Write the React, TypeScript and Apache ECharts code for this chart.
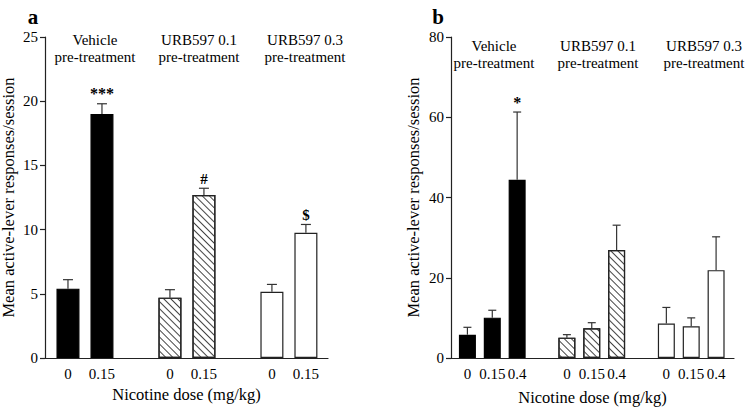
import React, { useEffect, useRef } from "react";
import * as echarts from "echarts";

const groupNames = ["Vehicle", "URB597 0.1", "URB597 0.3"];
const groupSub = "pre-treatment";
const styles = ["solid", "hatched", "open"];

const dosesA = ["0", "0.15"];
const meansA = [[5.4, 19.0], [4.7, 12.7], [5.15, 9.75]];
const semA = [[0.7, 0.8], [0.62, 0.52], [0.58, 0.65]];
const sigA = [["", "***"], ["", "#"], ["", "$"]];

const dosesB = ["0", "0.15", "0.4"];
const meansB = [[5.8, 10.05, 44.4], [5.07, 7.4, 26.9], [8.6, 7.9, 21.9]];
const semB = [[1.85, 1.85, 16.9], [0.75, 1.4, 6.2], [4.0, 2.1, 8.3]];
const sigB = [["", "", "*"], ["", "", ""], ["", "", ""]];

const yTicksA = { min: 0, max: 25, interval: 5 };
const yTicksB = { min: 0, max: 80, interval: 20 };

const FONT = "Liberation Serif";

function barStyle(kind: string) {
  if (kind === "solid") return { color: "#000", borderColor: "#000", borderWidth: 1.2 };
  if (kind === "hatched")
    return {
      color: "#fff",
      borderColor: "#222",
      borderWidth: 1.2,
      decal: {
        symbol: "rect",
        symbolSize: 1,
        dashArrayX: [1, 0],
        dashArrayY: [1, 3.5],
        rotation: Math.PI / 4,
        color: "#444",
        backgroundColor: "#fff",
      },
    };
  return { color: "#fff", borderColor: "#222", borderWidth: 1.2 };
}

function buildPanel(
  idx: number,
  doses: string[],
  means: number[][],
  sems: number[][],
  sigs: string[][],
  barW: number,
  capHalf: number
) {
  const step = doses.length + 1;
  const positions: number[] = [];
  const labels: Record<number, string> = {};
  means.forEach((g, gi) =>
    g.forEach((_, di) => {
      const p = gi * step + di;
      positions.push(p);
      labels[p] = doses[di];
    })
  );
  const series: any[] = means.map((g, gi) => ({
    type: "bar",
    xAxisIndex: idx,
    yAxisIndex: idx,
    barWidth: barW,
    barGap: "-100%",
    itemStyle: barStyle(styles[gi]),
    data: g.map((v, di) => [gi * step + di, v]),
    z: 2,
  }));
  const errData: any[] = [];
  means.forEach((g, gi) =>
    g.forEach((v, di) => errData.push([gi * step + di, v, sems[gi][di], sigs[gi][di]]))
  );
  series.push({
    type: "custom",
    xAxisIndex: idx,
    yAxisIndex: idx,
    z: 3,
    data: errData,
    renderItem: (params: any, api: any) => {
      const x = api.value(0);
      const y = api.value(1);
      const e = api.value(2);
      const s = errData[params.dataIndex][3];
      const p0 = api.coord([x, y]);
      const p1 = api.coord([x, y + e]);
      const children: any[] = [
        { type: "line", shape: { x1: p0[0], y1: p0[1], x2: p1[0], y2: p1[1] }, style: { stroke: "#333", lineWidth: 1.2 } },
        { type: "line", shape: { x1: p1[0] - capHalf, y1: p1[1], x2: p1[0] + capHalf, y2: p1[1] }, style: { stroke: "#333", lineWidth: 1.2 } },
      ];
      if (s) {
        children.push({
          type: "text",
          style: {
            x: p1[0],
            y: p1[1] - 2,
            text: s,
            align: "center",
            verticalAlign: "bottom",
            font: `bold ${s === "$" || s === "#" ? 15 : 16}px "${FONT}"`,
            fill: "#000",
          },
        });
      }
      return { type: "group", children };
    },
  });
  return { positions, labels, series };
}

export default function App() {
  const ref = useRef<HTMLDivElement>(null);
  useEffect(() => {
    document.body.style.margin = "0";
    const chart = echarts.init(ref.current!, null, { renderer: "svg" });
    const pa = buildPanel(0, dosesA, meansA, semA, sigA, 23, 5);
    const pb = buildPanel(1, dosesB, meansB, semB, sigB, 17, 4);

    const xAxisBase = (i: number, min: number, max: number, p: any) => ({
      type: "value",
      gridIndex: i,
      min,
      max,
      axisLine: { show: true, onZero: false, lineStyle: { color: "#222", width: 1.2 } },
      axisTick: { show: false },
      splitLine: { show: false },
      axisLabel: {
        customValues: p.positions,
        formatter: (v: number) => p.labels[Math.round(v)] ?? "",
        fontFamily: FONT,
        fontSize: 15,
        color: "#000",
        margin: 8,
      },
      name: "Nicotine dose (mg/kg)",
      nameLocation: "middle",
      nameGap: i === 0 ? 27 : 31,
      nameTextStyle: { fontFamily: FONT, fontSize: 16.5, color: "#000" },
    });
    const yAxisBase = (i: number, t: any) => ({
      type: "value",
      gridIndex: i,
      min: t.min,
      max: t.max,
      interval: t.interval,
      axisLine: { show: true, onZero: false, lineStyle: { color: "#222", width: 1.2 } },
      axisTick: { show: true, inside: false, length: 5, lineStyle: { color: "#222", width: 1.2 } },
      splitLine: { show: false },
      axisLabel: { fontFamily: FONT, fontSize: 15, color: "#000", margin: 7 },
      name: "Mean active-lever responses/session",
      nameLocation: "middle",
      nameGap: i === 0 ? 28 : 29,
      nameTextStyle: { fontFamily: FONT, fontSize: 16.5, color: "#000" },
    });

    const groupText = (x: number, y: number, name: string) => [
      { type: "text", x, y, style: { text: name, font: `15px "${FONT}"`, fill: "#000", align: "center", verticalAlign: "middle" } },
      { type: "text", x, y: y + 17, style: { text: groupSub, font: `15px "${FONT}"`, fill: "#000", align: "center", verticalAlign: "middle" } },
    ];

    chart.setOption({
      animation: false,
      backgroundColor: "#fff",
      grid: [
        { left: 45, top: 37, width: 283, height: 321, containLabel: false, outerBoundsMode: "none" },
        { left: 451, top: 37, width: 283, height: 321, containLabel: false, outerBoundsMode: "none" },
      ],
      xAxis: [xAxisBase(0, -0.676, 7.65, pa), xAxisBase(1, -0.66, 10.72, pb)],
      yAxis: [yAxisBase(0, yTicksA), yAxisBase(1, yTicksB)],
      series: [...pa.series, ...pb.series],
      graphic: [
        { type: "text", x: 33, y: 17, style: { text: "a", font: `bold 21px "${FONT}"`, fill: "#000", align: "center", verticalAlign: "middle" } },
        { type: "text", x: 438, y: 17, style: { text: "b", font: `bold 21px "${FONT}"`, fill: "#000", align: "center", verticalAlign: "middle" } },
        ...groupText(95, 40, groupNames[0]),
        ...groupText(199, 40, groupNames[1]),
        ...groupText(305, 40, groupNames[2]),
        ...groupText(494, 46, groupNames[0]),
        ...groupText(598, 46, groupNames[1]),
        ...groupText(704, 46, groupNames[2]),
      ],
    });
    return () => chart.dispose();
  }, []);
  return <div ref={ref} style={{ width: 750, height: 413 }} />;
}
